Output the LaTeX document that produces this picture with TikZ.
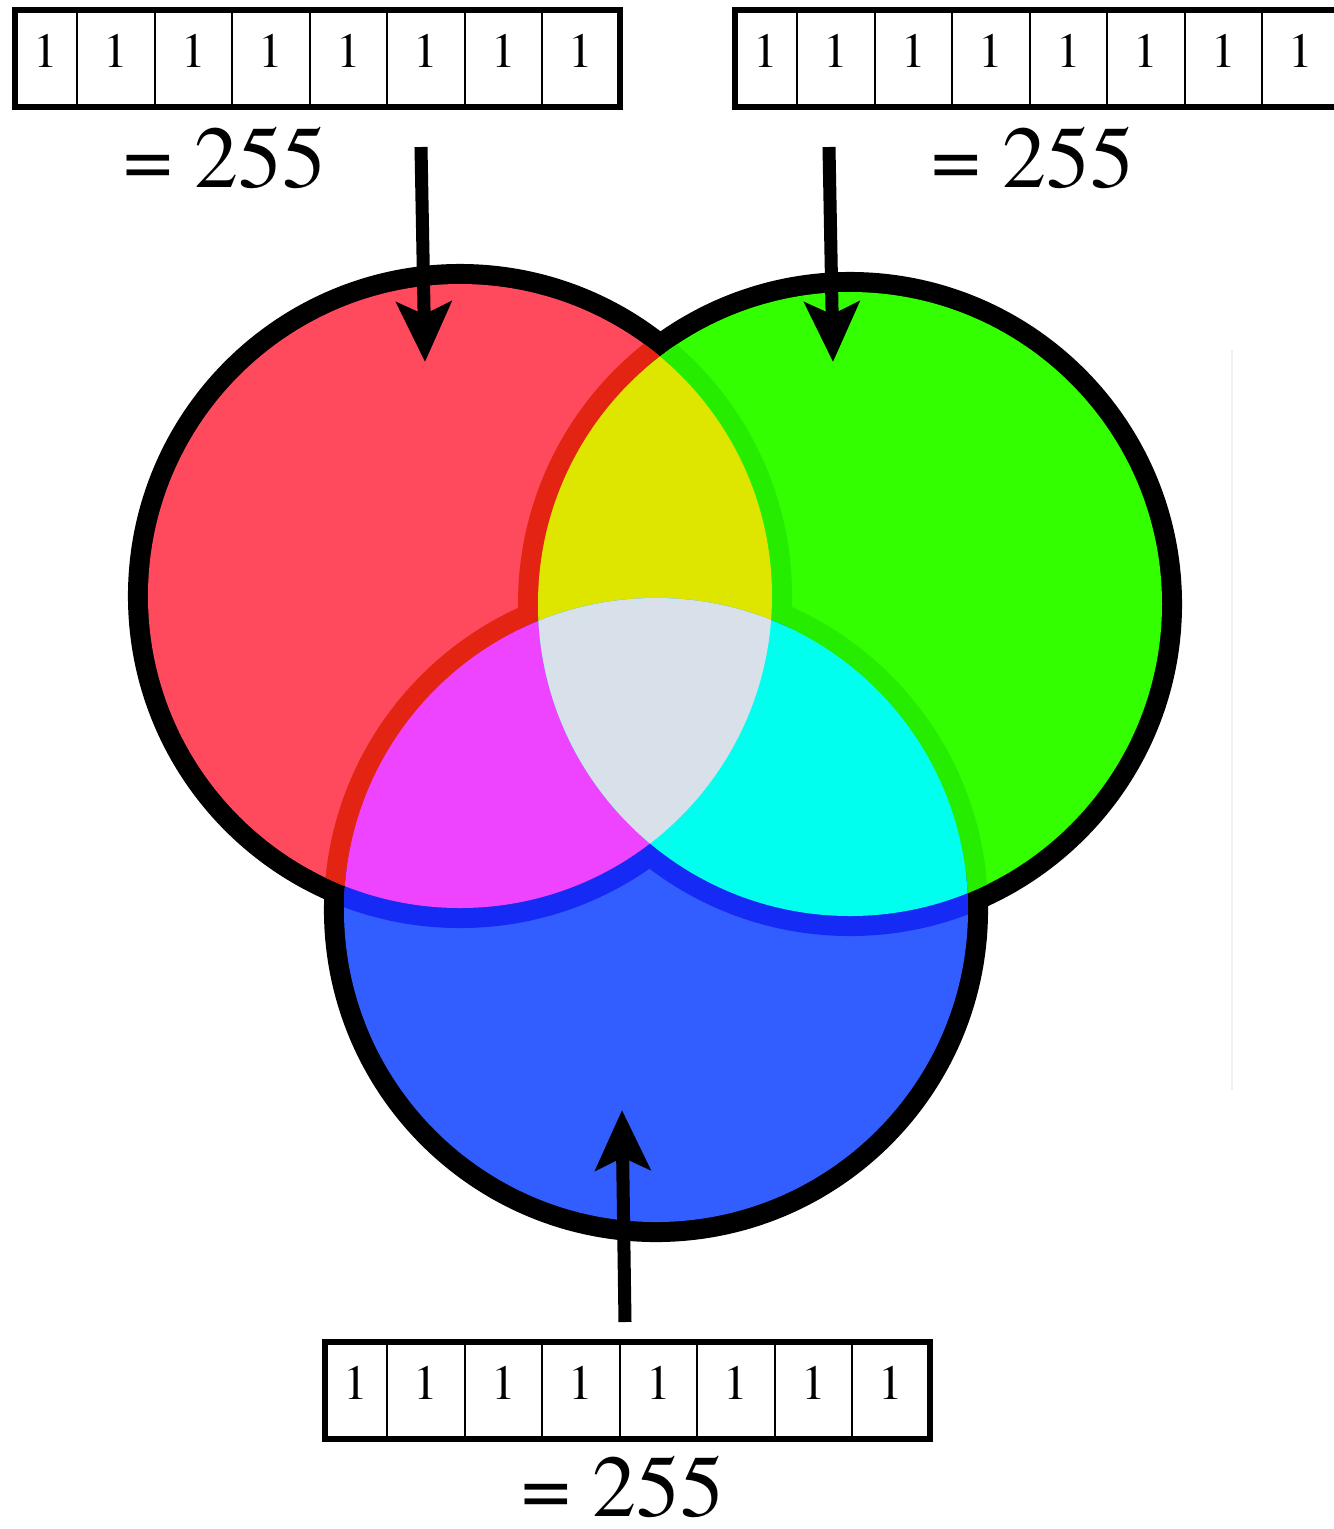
\documentclass[tikz,border=0pt]{standalone}
\usepackage{fontspec}
\setmainfont{texgyretermes-regular.otf}
\usetikzlibrary{arrows.meta}

\definecolor{rojo}{RGB}{255,74,94}
\definecolor{rojoosc}{RGB}{228,36,18}
\definecolor{verde}{RGB}{51,255,0}
\definecolor{verdeosc}{RGB}{38,236,0}
\definecolor{azul}{RGB}{51,94,255}
\definecolor{azulosc}{RGB}{22,42,245}
\definecolor{amarillo}{RGB}{222,230,0}
\definecolor{magen}{RGB}{238,68,255}
\definecolor{cian}{RGB}{0,255,238}
\definecolor{blanco}{RGB}{216,224,234}

\begin{document}
\begin{tikzpicture}[x=0.01cm, y=0.01cm,
  >={Stealth[length=17pt, width=15.5pt, inset=3.5pt]},
  contorno/.style={line width=11.4pt},
  marco/.style={line width=1.7pt},
  divisor/.style={line width=0.6pt},
  bit/.style={font=\fontsize{14}{14}\selectfont, anchor=base, inner sep=0pt},
  valor/.style={font=\fontsize{25}{25}\selectfont, anchor=base, inner sep=0pt},
  flecha/.style={->, line width=3.7pt}]
  \useasboundingbox (0,0) rectangle (1334,-1529);
  \clip (0,0) rectangle (1334,-1529);
  \def\rad{312}
  \coordinate (cR) at (460,-596);
  \coordinate (cG) at (850,-604);
  \coordinate (cB) at (656,-910);
  % contorno negro, la mitad interior queda tapada por los rellenos
  \foreach \c in {cR,cG,cB} \draw[contorno] (\c) circle (\rad);
  \fill[rojo] (cR) circle (\rad);
  \fill[verde] (cG) circle (\rad);
  \fill[azul] (cB) circle (\rad);
  % bordes que caen dentro de otro circulo toman su color
  \begin{scope}
    \clip (cR) circle (\rad);
    \draw[contorno, rojoosc] (cG) circle (\rad) (cB) circle (\rad);
  \end{scope}
  \begin{scope}
    \clip (cG) circle (\rad);
    \draw[contorno, verdeosc] (cR) circle (\rad) (cB) circle (\rad);
  \end{scope}
  \begin{scope}
    \clip (cB) circle (\rad);
    \draw[contorno, azulosc] (cR) circle (\rad) (cG) circle (\rad);
  \end{scope}
  % mezclas de a dos y de a tres
  \begin{scope}
    \clip (cR) circle (\rad);
    \fill[amarillo] (cG) circle (\rad);
    \fill[magen] (cB) circle (\rad);
  \end{scope}
  \begin{scope}
    \clip (cG) circle (\rad);
    \fill[cian] (cB) circle (\rad);
    \clip (cR) circle (\rad);
    \fill[blanco] (cB) circle (\rad);
  \end{scope}
  \draw[black!6, line width=0.5pt] (1232,-350) -- (1232,-1090);
  % registros de 8 bits
  \foreach \n/\x/\y in {regR/15/-10, regG/735/-10, regB/325/-1342} {
    \foreach \a/\b [count=\k] in {0/62, 62/140, 140/217, 217/295, 295/372, 372/450, 450/527, 527/605} {
      \draw[divisor] (\x+\a,\y) rectangle (\x+\b,\y-97);
      \node[bit] (\n-\k) at ({\x+(\a+\b)/2},\y-57) {1};
    }
    \draw[marco] (\x,\y) rectangle (\x+605,\y-97);
  }
  \node[valor] (valR) at (225,-187) {= 255};
  \node[valor] (valG) at (1033,-187) {= 255};
  \node[valor] (valB) at (623,-1516) {= 255};
  % flechas hacia cada circulo
  \coordinate (flR0) at (421,-147);
  \coordinate (flR1) at (425,-362);
  \coordinate (flG0) at (829,-147);
  \coordinate (flG1) at (833,-362);
  \coordinate (flB0) at (625,-1322);
  \coordinate (flB1) at (622,-1110);
  \draw[flecha] (flR0) -- (flR1);
  \draw[flecha] (flG0) -- (flG1);
  \draw[flecha] (flB0) -- (flB1);
\end{tikzpicture}
\end{document}
